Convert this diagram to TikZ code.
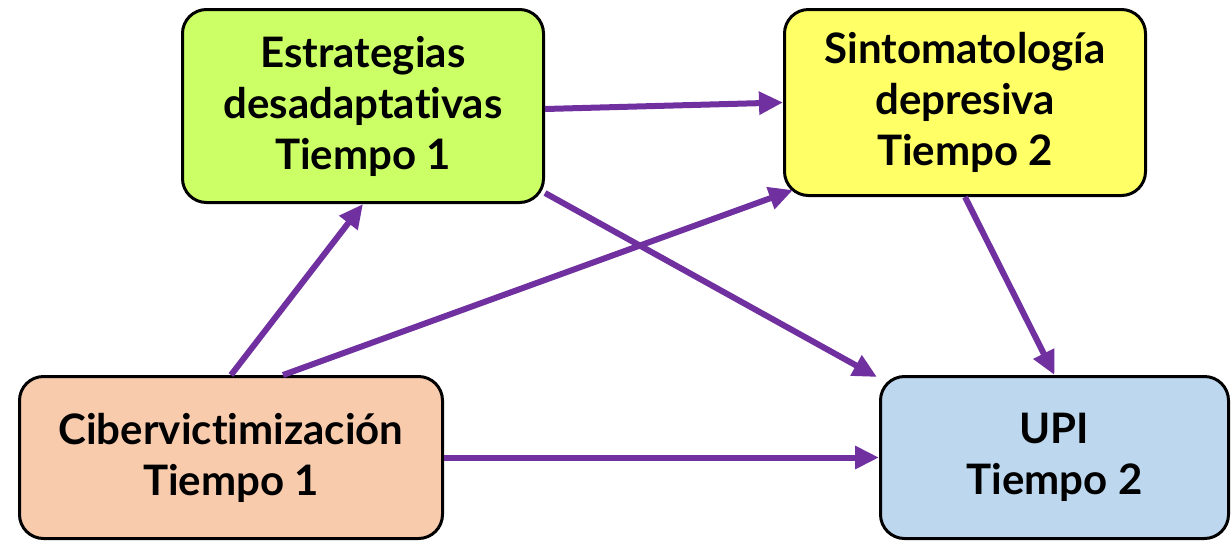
\documentclass[tikz,border=0pt]{standalone}
\usepackage{fontspec}
\setmainfont{Lato}[Ligatures={NoCommon}]
\usetikzlibrary{arrows.meta,calc}
\definecolor{cgreen}{HTML}{CCFF66}
\definecolor{cyellow}{HTML}{FFFF66}
\definecolor{cpeach}{HTML}{F8CBAD}
\definecolor{cblue}{HTML}{BDD7EE}
\definecolor{cpurple}{HTML}{7030A0}
\tikzset{
  box/.style={draw=black, line width=3pt, rounded corners=24pt, align=center,
    font=\fontsize{42}{51}\selectfont\bfseries, inner sep=0pt},
  conn/.style={draw=cpurple, line width=6pt, -{Triangle[length=24pt,width=22pt]}}
}
\begin{document}
\begin{tikzpicture}[x=1pt,y=-1pt]
\useasboundingbox (0,0) rectangle (1231,542);
\node[box, fill=cgreen, minimum width=361pt, minimum height=193pt] (E) at (363,106) {Estrategias\\desadaptativas\\Tiempo 1};
\node[box, fill=cyellow, minimum width=361pt, minimum height=186pt] (S) at (965,102.5) {Sintomatología\\depresiva\\Tiempo 2};
\node[box, fill=cpeach, minimum width=423pt, minimum height=162pt] (C) at (231,457.5) {Cibervictimización\\Tiempo 1};
\node[box, fill=cblue, minimum width=348pt, minimum height=162pt] (U) at (1054.5,457.5) {UPI\\Tiempo 2};
\draw[conn] ([yshift=-3pt]E.east) -- ([yshift=0pt]S.west);
\draw[conn] ([yshift=11pt]E.south east) -- ([xshift=-2pt,yshift=-2pt]U.north west);
\draw[conn] (C.north) -- (E.south);
\draw[conn] ([xshift=52pt]C.north) -- ([xshift=10pt,yshift=7pt]S.south west);
\draw[conn] (C.east) -- (U.west);
\draw[conn] (S.south) -- (U.north);
\end{tikzpicture}
\end{document}
